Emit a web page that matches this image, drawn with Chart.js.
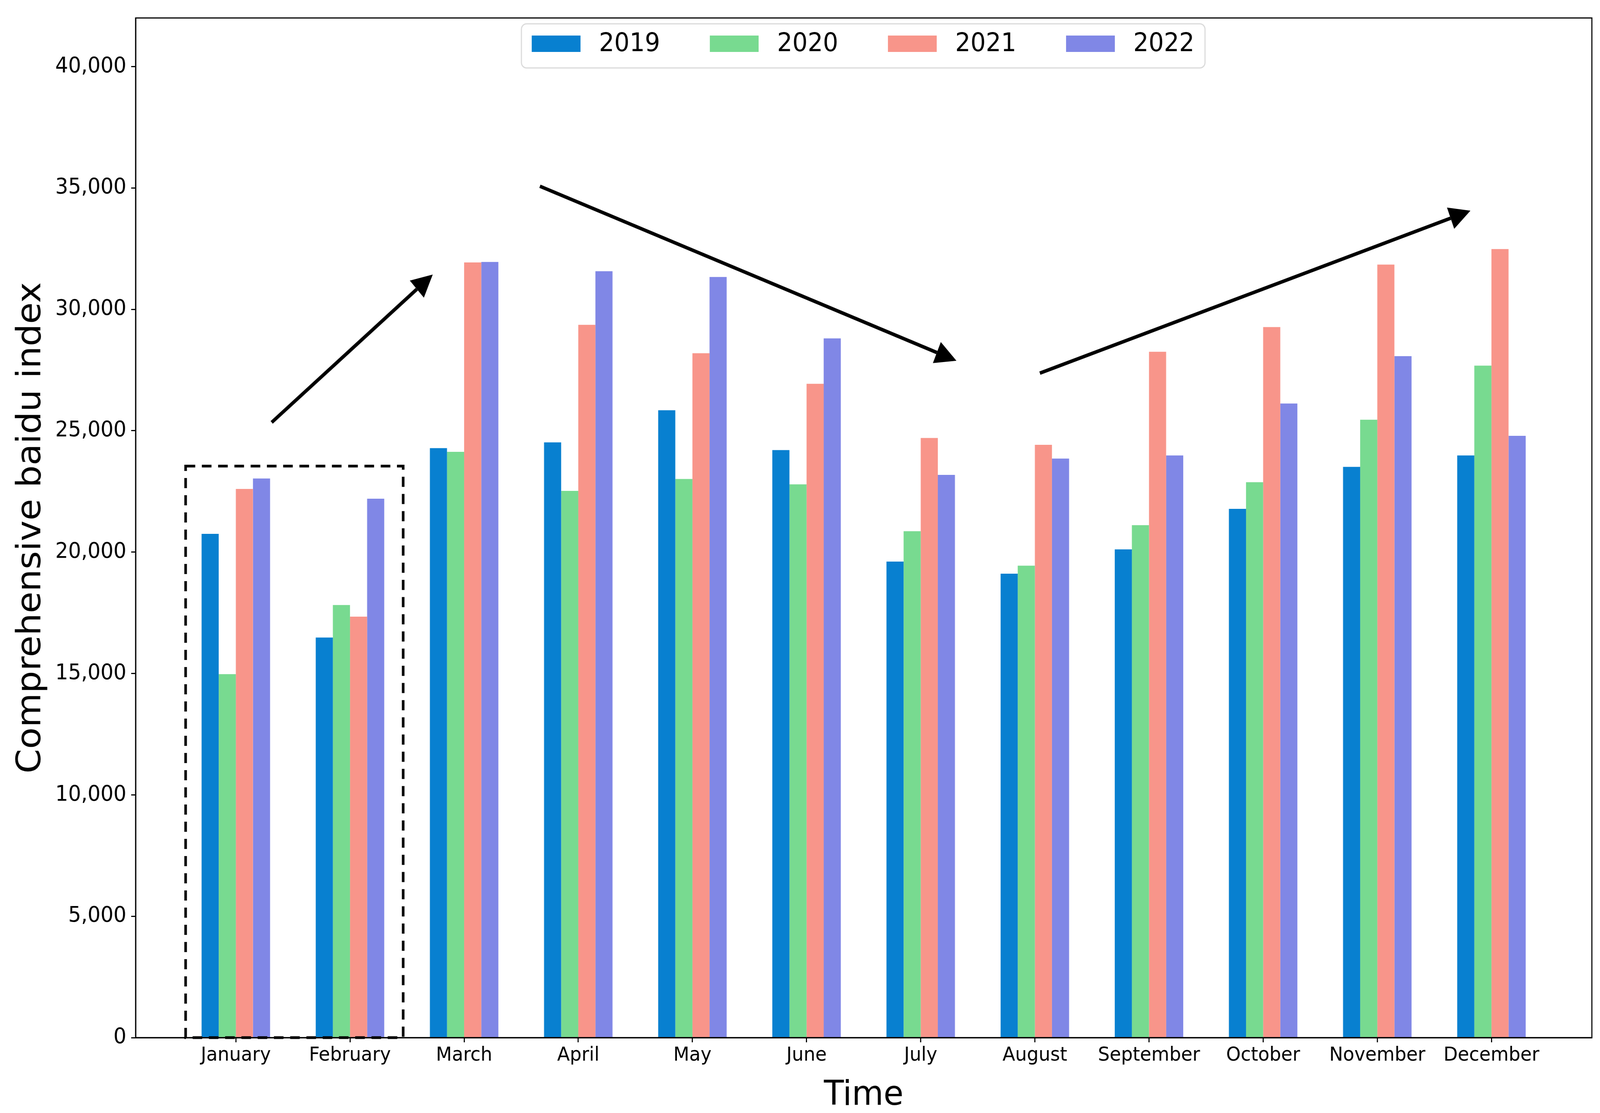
<!DOCTYPE html>
<html>
<head>
<meta charset="utf-8">
<script src="https://cdn.jsdelivr.net/npm/chart.js@4.4.1/dist/chart.umd.min.js"></script>
<style>
  html, body { margin: 0; padding: 0; background: #fff; overflow: hidden; }
  canvas { display: block; }
</style>
</head>
<body>
<canvas id="baiduChart" width="4330" height="2850" style="width:100vw;height:100vh"></canvas>
<script>
// values
const months = ["January","February","March","April","May","June","July","August","September","October","November","December"];
const years = ["2019","2020","2021","2022"];
const y2019 = [20750, 16480, 24280, 24520, 25840, 24200, 19610, 19110, 20110, 21780, 23510, 23980];
const y2020 = [14970, 17820, 24130, 22520, 23010, 22790, 20860, 19440, 21110, 22880, 25450, 27680];
const y2021 = [22600, 17340, 31930, 29360, 28190, 26930, 24700, 24420, 28250, 29270, 31840, 32480];
const y2022 = [23030, 22200, 31950, 31570, 31330, 28800, 23180, 23850, 23980, 26120, 28070, 24790];
const yTicks = [0, 5000, 10000, 15000, 20000, 25000, 30000, 35000, 40000];

const colors = ["#0880d0", "#78da90", "#f8958a", "#8087e6"];

// annotations, in data units (x = month index, y = index value)
const arrows = [
  { from: [0.314, 25340], to: [1.725, 31430] },
  { from: [2.664, 35070], to: [6.313, 27880] },
  { from: [7.044, 27370], to: [10.816, 34060] }
];
const box = { x0: -0.44, x1: 1.466, y0: 0, y1: 23540 };

Chart.defaults.font.family = "'DejaVu Sans', sans-serif";
Chart.defaults.color = "#000";

const series = [y2019, y2020, y2021, y2022];

const overlay = {
  id: "overlay",
  afterDatasetsDraw(chart) {
    const c = chart.ctx;
    const xs = chart.scales.x, ys = chart.scales.y;
    const px = v => xs.getPixelForValue(v);
    const py = v => ys.getPixelForValue(v);

    // dashed box round Jan / Feb
    c.save();
    c.strokeStyle = "#000";
    c.lineWidth = 7;
    c.setLineDash([26, 18]);
    c.strokeRect(px(box.x0), py(box.y1), px(box.x1) - px(box.x0), py(box.y0) - py(box.y1));
    c.restore();

    // trend arrows
    c.save();
    c.fillStyle = "#000";
    c.strokeStyle = "#000";
    c.lineWidth = 9;
    arrows.forEach(a => {
      const x1 = px(a.from[0]), y1 = py(a.from[1]);
      const x2 = px(a.to[0]), y2 = py(a.to[1]);
      const ang = Math.atan2(y2 - y1, x2 - x1);
      const hl = 57, hw = 29;
      const bx = x2 - hl * Math.cos(ang), by = y2 - hl * Math.sin(ang);
      c.beginPath();
      c.moveTo(x1, y1);
      c.lineTo(bx, by);
      c.stroke();
      c.beginPath();
      c.moveTo(x2, y2);
      c.lineTo(bx + hw * Math.sin(ang), by - hw * Math.cos(ang));
      c.lineTo(bx - hw * Math.sin(ang), by + hw * Math.cos(ang));
      c.closePath();
      c.fill();
    });
    c.restore();
  },
  afterDraw(chart) {
    const c = chart.ctx;
    const a = chart.chartArea;

    // frame (top and right spines)
    c.save();
    c.strokeStyle = "#000";
    c.lineWidth = 3;
    c.strokeRect(a.left, a.top, a.right - a.left, a.bottom - a.top);
    c.restore();

    // legend inside the plot
    const lx = 1411, ly = 61, lw = 1850, lh = 113;
    c.save();
    c.beginPath();
    c.roundRect(lx, ly, lw, lh, 14);
    c.fillStyle = "rgba(255,255,255,0.85)";
    c.fill();
    c.strokeStyle = "#dadada";
    c.lineWidth = 3;
    c.stroke();
    c.font = "65px 'DejaVu Sans'";
    c.textBaseline = "middle";
    chart.data.datasets.forEach((ds, i) => {
      const ix = 1439 + i * 482;
      c.fillStyle = ds.backgroundColor;
      c.fillRect(ix, 91, 132, 42);
      c.fillStyle = "#000";
      c.fillText(ds.label, ix + 182, 114);
    });
    c.restore();
  }
};

new Chart(document.getElementById("baiduChart"), {
  type: "bar",
  data: {
    datasets: years.map((yr, k) => ({
      label: yr,
      data: series[k].map((v, i) => ({ x: i, y: v })),
      backgroundColor: colors[k],
      borderWidth: 0,
      categoryPercentage: 0.6,
      barPercentage: 1.0
    }))
  },
  options: {
    responsive: false,
    animation: false,
    devicePixelRatio: 1,
    layout: { autoPadding: false, padding: { left: 0, top: 28, right: 22, bottom: 0 } },
    plugins: { legend: { display: false }, tooltip: { enabled: false } },
    scales: {
      x: {
        type: "linear",
        min: -0.878,
        max: 11.88,
        offset: false,
        afterBuildTicks: s => { s.ticks = months.map((_, i) => ({ value: i })); },
        afterFit: s => { s.height = 193; },
        ticks: {
          callback: v => months[v],
          autoSkip: false,
          maxRotation: 0,
          minRotation: 0,
          padding: 4,
          font: { size: 50 },
          color: "#000"
        },
        grid: { offset: false, drawOnChartArea: false, drawTicks: true, tickLength: 12, tickWidth: 3, tickColor: "#000" },
        border: { display: true, color: "#000", width: 3 },
        title: { display: true, text: "Time", font: { size: 88, lineHeight: 1 }, padding: { top: 20, bottom: 0 }, color: "#000" }
      },
      y: {
        min: 0,
        max: 42000,
        afterBuildTicks: s => { s.ticks = yTicks.map(v => ({ value: v })); },
        afterFit: s => { s.width = 367; },
        ticks: {
          callback: v => v.toLocaleString("en-US"),
          padding: 13,
          font: { size: 55 },
          color: "#000"
        },
        grid: { offset: false, drawOnChartArea: false, drawTicks: true, tickLength: 12, tickWidth: 3, tickColor: "#000" },
        border: { display: true, color: "#000", width: 3 },
        title: { display: true, text: "Comprehensive baidu index", font: { size: 90, lineHeight: 1 }, padding: { top: 41, bottom: 0 }, color: "#000" }
      }
    }
  },
  plugins: [overlay]
});
</script>
</body>
</html>
